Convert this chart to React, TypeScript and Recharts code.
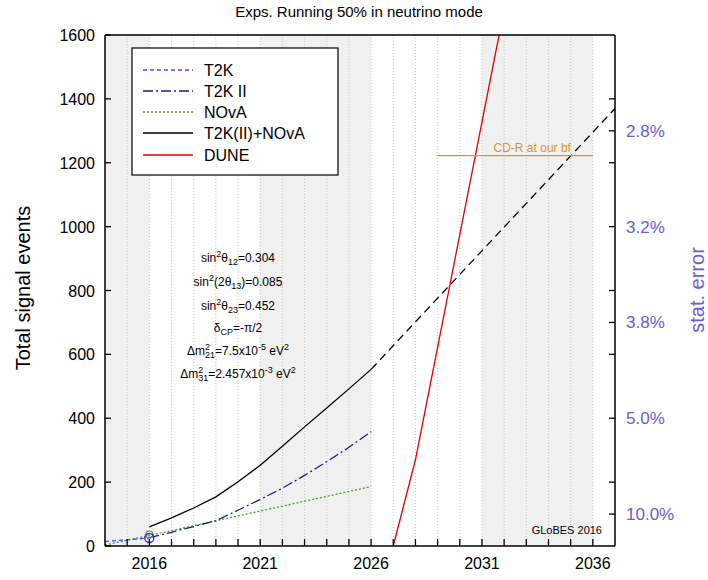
import React from "react";
import { LineChart, Line, XAxis, YAxis, ReferenceArea, ReferenceLine, ReferenceDot } from "recharts";

const FONT = "'Liberation Sans', Arial, Helvetica, sans-serif";
const SLATE = "#6c5cd6";

// year ticks and labelled years
const years = [2015, 2016, 2017, 2018, 2019, 2020, 2021, 2022, 2023, 2024, 2025, 2026, 2027, 2028, 2029, 2030, 2031, 2032, 2033, 2034, 2035, 2036];
const yearLabels = [2016, 2021, 2026, 2031, 2036];
const eventTicks = [0, 200, 400, 600, 800, 1000, 1200, 1400, 1600];
const rightTicks = [100, 200, 400, 600, 700, 800, 1000, 1200, 1300, 1400];
const statLabels: Record<number, string> = { 100: "10.0%", 400: "5.0%", 700: "3.8%", 1000: "3.2%", 1300: "2.8%" };
const shadedYears = [[2014, 2016], [2021, 2026], [2031, 2036]];

// series (year, total signal events)
const t2k = [{ x: 2014, y: 14 }, { x: 2016, y: 25 }];
const t2k2 = [
  { x: 2016, y: 26 }, { x: 2017, y: 43 }, { x: 2018, y: 61 }, { x: 2019, y: 79 }, { x: 2020, y: 112 },
  { x: 2021, y: 146 }, { x: 2022, y: 181 }, { x: 2023, y: 221 }, { x: 2024, y: 264 }, { x: 2025, y: 309 }, { x: 2026, y: 358 },
];
const nova = [{ x: 2014, y: 3 }, { x: 2016, y: 33 }, { x: 2019, y: 79 }, { x: 2026, y: 186 }];
const combined = [
  { x: 2016, y: 60 }, { x: 2017, y: 88 }, { x: 2018, y: 119 }, { x: 2019, y: 154 }, { x: 2020, y: 201 },
  { x: 2021, y: 253 }, { x: 2022, y: 312 }, { x: 2023, y: 373 }, { x: 2024, y: 432 }, { x: 2025, y: 492 }, { x: 2026, y: 553 },
];
const combinedExtrap = [{ x: 2026, y: 553 }, { x: 2037, y: 1370 }];
const dune = [{ x: 2027, y: 0 }, { x: 2028, y: 270 }, { x: 2032, y: 1680 }];
const cdr = { from: 2029, to: 2036, y: 1222 };
const startPoints = { t2k: 25, nova: 36 };

const series = [
  { name: "T2K", color: "#4a4aff", dash: "4 3" },
  { name: "T2K II", color: "#1c1c86", dash: "10 3 2 3" },
  { name: "NOvA", color: "#4f9a1f", dash: "2 2" },
  { name: "T2K(II)+NOvA", color: "#000000", dash: undefined },
  { name: "DUNE", color: "#e00000", dash: undefined },
];

const BottomTick = ({ x, y, payload }: any) => (
  <g>
    <line x1={x} x2={x} y1={y} y2={y - 7} stroke="#000" strokeWidth={1.3} />
    {yearLabels.includes(payload.value) && (
      <text x={x} y={y + 23} textAnchor="middle" fontSize={16} fontFamily={FONT} fill="#000">
        {payload.value}
      </text>
    )}
  </g>
);

const TopTick = ({ x, y }: any) => <line x1={x} x2={x} y1={y} y2={y + 7} stroke="#000" strokeWidth={1.3} />;

const LeftTick = ({ x, y, payload }: any) => (
  <g>
    <line x1={x} x2={x + 6} y1={y} y2={y} stroke="#000" strokeWidth={1.3} />
    <text x={x - 10} y={y + 6} textAnchor="end" fontSize={16} fontFamily={FONT} fill="#000">
      {payload.value}
    </text>
  </g>
);

const RightTick = ({ x, y, payload }: any) => (
  <g>
    <line x1={x} x2={x - 6} y1={y} y2={y} stroke="#000" strokeWidth={1.3} />
    {statLabels[payload.value] && (
      <text x={x + 11} y={y + 6} textAnchor="start" fontSize={17} fontFamily={FONT} fill={SLATE}>
        {statLabels[payload.value]}
      </text>
    )}
  </g>
);

function Params() {
  const s = { fontSize: 12, fontFamily: FONT, fill: "#000", textAnchor: "middle" as const };
  const sm = 9;
  return (
    <g>
      <text x={238} y={262} {...s}>
        sin<tspan dy={-5} fontSize={sm}>2</tspan><tspan dy={5}>θ</tspan><tspan dy={3} fontSize={sm}>12</tspan><tspan dy={-3}>=0.304</tspan>
      </text>
      <text x={238} y={286} {...s}>
        sin<tspan dy={-5} fontSize={sm}>2</tspan><tspan dy={5}>(2θ</tspan><tspan dy={3} fontSize={sm}>13</tspan><tspan dy={-3}>)=0.085</tspan>
      </text>
      <text x={238} y={310} {...s}>
        sin<tspan dy={-5} fontSize={sm}>2</tspan><tspan dy={5}>θ</tspan><tspan dy={3} fontSize={sm}>23</tspan><tspan dy={-3}>=0.452</tspan>
      </text>
      <text x={238} y={332} {...s}>
        δ<tspan dy={3} fontSize={sm}>CP</tspan><tspan dy={-3}>=-π/2</tspan>
      </text>
      <text x={238} y={355} {...s}>
        Δm<tspan dy={-5} fontSize={sm}>2</tspan><tspan dx={-5} dy={8} fontSize={sm}>21</tspan><tspan dy={-3}>=7.5x10</tspan><tspan dy={-5} fontSize={sm}>-5</tspan><tspan dy={5}> eV</tspan><tspan dy={-5} fontSize={sm}>2</tspan>
      </text>
      <text x={238} y={378} {...s}>
        Δm<tspan dy={-5} fontSize={sm}>2</tspan><tspan dx={-5} dy={8} fontSize={sm}>31</tspan><tspan dy={-3}>=2.457x10</tspan><tspan dy={-5} fontSize={sm}>-3</tspan><tspan dy={5}> eV</tspan><tspan dy={-5} fontSize={sm}>2</tspan>
      </text>
    </g>
  );
}

function Overlay() {
  const rows = [70, 91, 112, 133, 155];
  return (
    <svg width={708} height={580} style={{ position: "absolute", left: 0, top: 0, pointerEvents: "none" }}>
      <text x={359} y={17} textAnchor="middle" fontSize={15} fontFamily={FONT} fill="#000">
        Exps. Running 50% in neutrino mode
      </text>
      <text x={0} y={0} transform="translate(30,288) rotate(-90)" textAnchor="middle" fontSize={20} fontFamily={FONT} fill="#000">
        Total signal events
      </text>
      <text x={0} y={0} transform="translate(704,290) rotate(-90)" textAnchor="middle" fontSize={20} fontFamily={FONT} fill={SLATE}>
        stat. error
      </text>
      <rect x={132} y={48} width={206} height={127} fill="#fff" stroke="#000" strokeWidth={1.2} />
      {series.map((s, i) => (
        <g key={s.name}>
          <line x1={143} x2={193} y1={rows[i]} y2={rows[i]} stroke={s.color} strokeWidth={1.3} strokeDasharray={s.dash} />
          <text x={204} y={rows[i] + 6} fontSize={16} fontFamily={FONT} fill="#000">
            {s.name}
          </text>
        </g>
      ))}
      <Params />
      <text x={602} y={534} textAnchor="end" fontSize={11} fontFamily={FONT} fill="#000">
        GLoBES 2016
      </text>
    </svg>
  );
}

export default function App() {
  return (
    <div style={{ position: "absolute", left: 0, top: 0, width: 708, height: 580, background: "#fff" }}>
      <LineChart width={708} height={580} margin={{ top: 30, right: 33, bottom: 4, left: 45 }}>
        <XAxis
          xAxisId={0}
          type="number"
          dataKey="x"
          domain={[2014, 2037]}
          ticks={years}
          interval={0}
          allowDataOverflow
          tickSize={0}
          tickMargin={0}
          height={30}
          tick={<BottomTick />}
          axisLine={{ stroke: "#000", strokeWidth: 1.5 }}
        />
        <XAxis
          xAxisId="top"
          orientation="top"
          type="number"
          domain={[2014, 2037]}
          ticks={years}
          interval={0}
          allowDataOverflow
          tickSize={0}
          tickMargin={0}
          height={5}
          tick={<TopTick />}
          axisLine={{ stroke: "#000", strokeWidth: 1.5 }}
        />
        <YAxis
          yAxisId={0}
          type="number"
          domain={[0, 1600]}
          ticks={eventTicks}
          interval={0}
          allowDataOverflow
          tickSize={0}
          tickMargin={0}
          width={60}
          tick={<LeftTick />}
          axisLine={{ stroke: "#000", strokeWidth: 1.5 }}
        />
        <YAxis
          yAxisId="right"
          orientation="right"
          type="number"
          domain={[0, 1600]}
          ticks={rightTicks}
          interval={0}
          allowDataOverflow
          tickSize={0}
          tickMargin={0}
          width={60}
          tick={<RightTick />}
          axisLine={{ stroke: "#000", strokeWidth: 1.5 }}
        />
        {shadedYears.map(([a, b]) => (
          <ReferenceArea key={a} xAxisId={0} yAxisId={0} x1={a} x2={b} y1={0} y2={1600} fill="#f0f0f0" fillOpacity={1} stroke="none" ifOverflow="hidden" />
        ))}
        {years.map((yr) => (
          <ReferenceLine key={yr} x={yr} stroke="#c4c4c4" strokeDasharray="1 2" strokeWidth={1} />
        ))}
        <Line data={nova} dataKey="y" type="linear" stroke={series[2].color} strokeDasharray={series[2].dash} strokeWidth={1.3} dot={false} isAnimationActive={false} />
        <Line data={t2k} dataKey="y" type="linear" stroke={series[0].color} strokeDasharray={series[0].dash} strokeWidth={1.3} dot={false} isAnimationActive={false} />
        <Line data={t2k2} dataKey="y" type="linear" stroke={series[1].color} strokeDasharray={series[1].dash} strokeWidth={1.3} dot={false} isAnimationActive={false} />
        <Line data={combined} dataKey="y" type="linear" stroke="#000" strokeWidth={1.3} dot={false} isAnimationActive={false} />
        <Line data={combinedExtrap} dataKey="y" type="linear" stroke="#000" strokeDasharray="8 5" strokeWidth={1.3} dot={false} isAnimationActive={false} />
        <Line data={dune} dataKey="y" type="linear" stroke={series[4].color} strokeWidth={1.3} dot={false} isAnimationActive={false} />
        <ReferenceLine
          segment={[{ x: cdr.from, y: cdr.y }, { x: cdr.to, y: cdr.y }]}
          stroke="#d8952b"
          strokeWidth={1.3}
          label={{ value: "CD-R at our bf", position: "insideTop", fill: "#d8952b", fontSize: 12, fontFamily: FONT, dy: -17, dx: 17 }}
        />
        <ReferenceDot x={2016} y={startPoints.nova} r={3.5} fill="none" stroke={series[2].color} strokeWidth={1.2} />
        <ReferenceDot x={2016} y={startPoints.t2k} r={4.5} fill="none" stroke="#2020ff" strokeWidth={1.3} />
      </LineChart>
      <Overlay />
    </div>
  );
}
